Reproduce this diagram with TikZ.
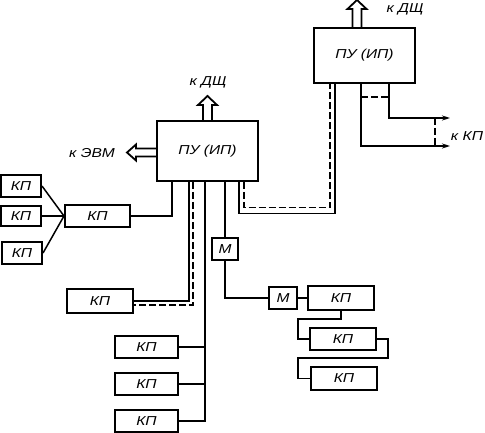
\documentclass[tikz,border=0pt]{standalone}
\usepackage{fontspec}
\setmainfont{Liberation Sans}[FakeStretch=1.2]
\usetikzlibrary{arrows.meta}

\begin{document}
\begin{tikzpicture}[x=1bp,y=-1bp,line width=1.5bp,
    blok/.style={draw,line width=2bp,inner sep=0pt,font=\itshape\fontsize{13}{15}\selectfont},
    kp/.style={blok,minimum width=64bp,minimum height=22bp},
    txt/.style={font=\itshape\fontsize{13}{15}\selectfont},
    dline/.style={line width=1.3bp,dash pattern=on 7bp off 3bp},
    outarr/.style={-{Stealth[length=8bp,width=5bp]}}]
  \useasboundingbox (0,0) rectangle (485,433);
  % control units
  \node[blok,minimum width=101bp,minimum height=60bp] (pu1) at (207.5,151) {ПУ (ИП)};
  \node[blok,minimum width=101bp,minimum height=55bp] (pu2) at (364.5,55.5) {ПУ (ИП)};
  % left group
  \node[blok,minimum width=40bp,minimum height=22bp] (kl1) at (21,186) {КП};
  \node[blok,minimum width=40bp,minimum height=20bp] (kl2) at (21,216) {КП};
  \node[blok,minimum width=40bp,minimum height=22bp] (kl3) at (22,253) {КП};
  \node[kp,minimum width=65bp] (km) at (97.5,216) {КП};
  \node[kp,minimum width=66bp,minimum height=24bp] (ka) at (100,301) {КП};
  \node[kp,minimum width=63bp] (kb1) at (146.5,347) {КП};
  \node[kp,minimum width=63bp] (kb2) at (146.5,384) {КП};
  \node[kp,minimum width=63bp] (kb3) at (146.5,421) {КП};
  % modems and chain
  \node[blok,minimum width=26bp,minimum height=22bp] (m1) at (225,249) {М};
  \node[blok,minimum width=28bp,minimum height=22bp] (m2) at (283,298) {М};
  \node[kp,minimum width=66bp,minimum height=24bp] (kc1) at (341,298) {КП};
  \node[kp,minimum width=66bp] (kc2) at (343,339) {КП};
  \node[kp,minimum width=66bp,minimum height=23bp] (kc3) at (344,378.5) {КП};

  \coordinate (b1) at ([xshift=16bp]pu1.south west);
  \coordinate (b2) at ([xshift=33bp]pu1.south west);
  \coordinate (b3) at ([xshift=37bp]pu1.south west);
  \coordinate (b4) at ([xshift=49bp]pu1.south west);
  \coordinate (b6) at ([xshift=83bp]pu1.south west);
  \coordinate (b7) at ([xshift=88bp]pu1.south west);
  \coordinate (c1) at ([xshift=22bp]pu2.south west);
  \coordinate (c2) at ([xshift=17bp]pu2.south west);
  \coordinate (c3) at ([xshift=48bp]pu2.south west);
  \coordinate (c4) at ([xshift=76bp]pu2.south west);
  \coordinate (o1) at (450,118);
  \coordinate (o2) at (450,146);

  % hollow arrows
  \draw[line width=1.8bp] (pu1.north) ++(-4.5,0) -- ++(0,-15) -- ++(-5,0) -- ++(9.5,-9) -- ++(9.5,9) -- ++(-5,0) -- ++(0,15);
  \draw[line width=1.8bp] (pu2.north) ++(-12,0) -- ++(0,-18) -- ++(-5,0) -- ++(9.5,-9) -- ++(9.5,9) -- ++(-5,0) -- ++(0,18);
  \draw[line width=1.8bp] (pu1.west) ++(0,-2.5) -- ++(-20,0) -- ++(0,-4) -- ++(-9,8) -- ++(9,8) -- ++(0,-4) -- ++(20,0);
  \node[txt] (l1) at (208,82) {к ДЩ};
  \node[txt] (l2) at (405,9) {к ДЩ};
  \node[txt] (l3) at (92,153) {к ЭВМ};
  \node[txt] (l4) at (467,136) {к КП};

  \draw (kl1.east) -- (km.west);
  \draw (kl2.east) -- (km.west);
  \draw (kl3.east) -- (km.west);
  \draw (km.east) -| (b1);
  \draw (b2) |- (ka.east);
  \draw[dline] (b3) |- ([yshift=-4bp]ka.east);
  \draw (b4) |- (kb3.east);
  \draw (kb1.east) -- (kb1.east -| b4);
  \draw (kb2.east) -- (kb2.east -| b4);
  \draw (m1.north) -- (m1.north |- pu1.south);
  \draw (m1.south) |- (m2.west);
  \draw (m2.east) -- (kc1.west);
  \draw (kc1.south) -- ++(0,8) -| ([xshift=-11bp]kc2.west) -- (kc2.west);
  \draw (kc2.east) -| ++(11,19) -| ([xshift=-12bp]kc3.west) -- (kc3.west);

  \draw (b6) -- ++(0,31.5) -| (c1);
  \draw[dline] (b7) -- ++(0,25.5) -| (c2);
  \draw[outarr] (c4) |- (o1);
  \draw[outarr] (c3) |- (o2);
  \draw[dline] ([yshift=-13bp]c3) -- ([yshift=-13bp]c4);
  \draw[dline] ([xshift=-15bp]o1) -- ([xshift=-15bp]o2);
\end{tikzpicture}
\end{document}
